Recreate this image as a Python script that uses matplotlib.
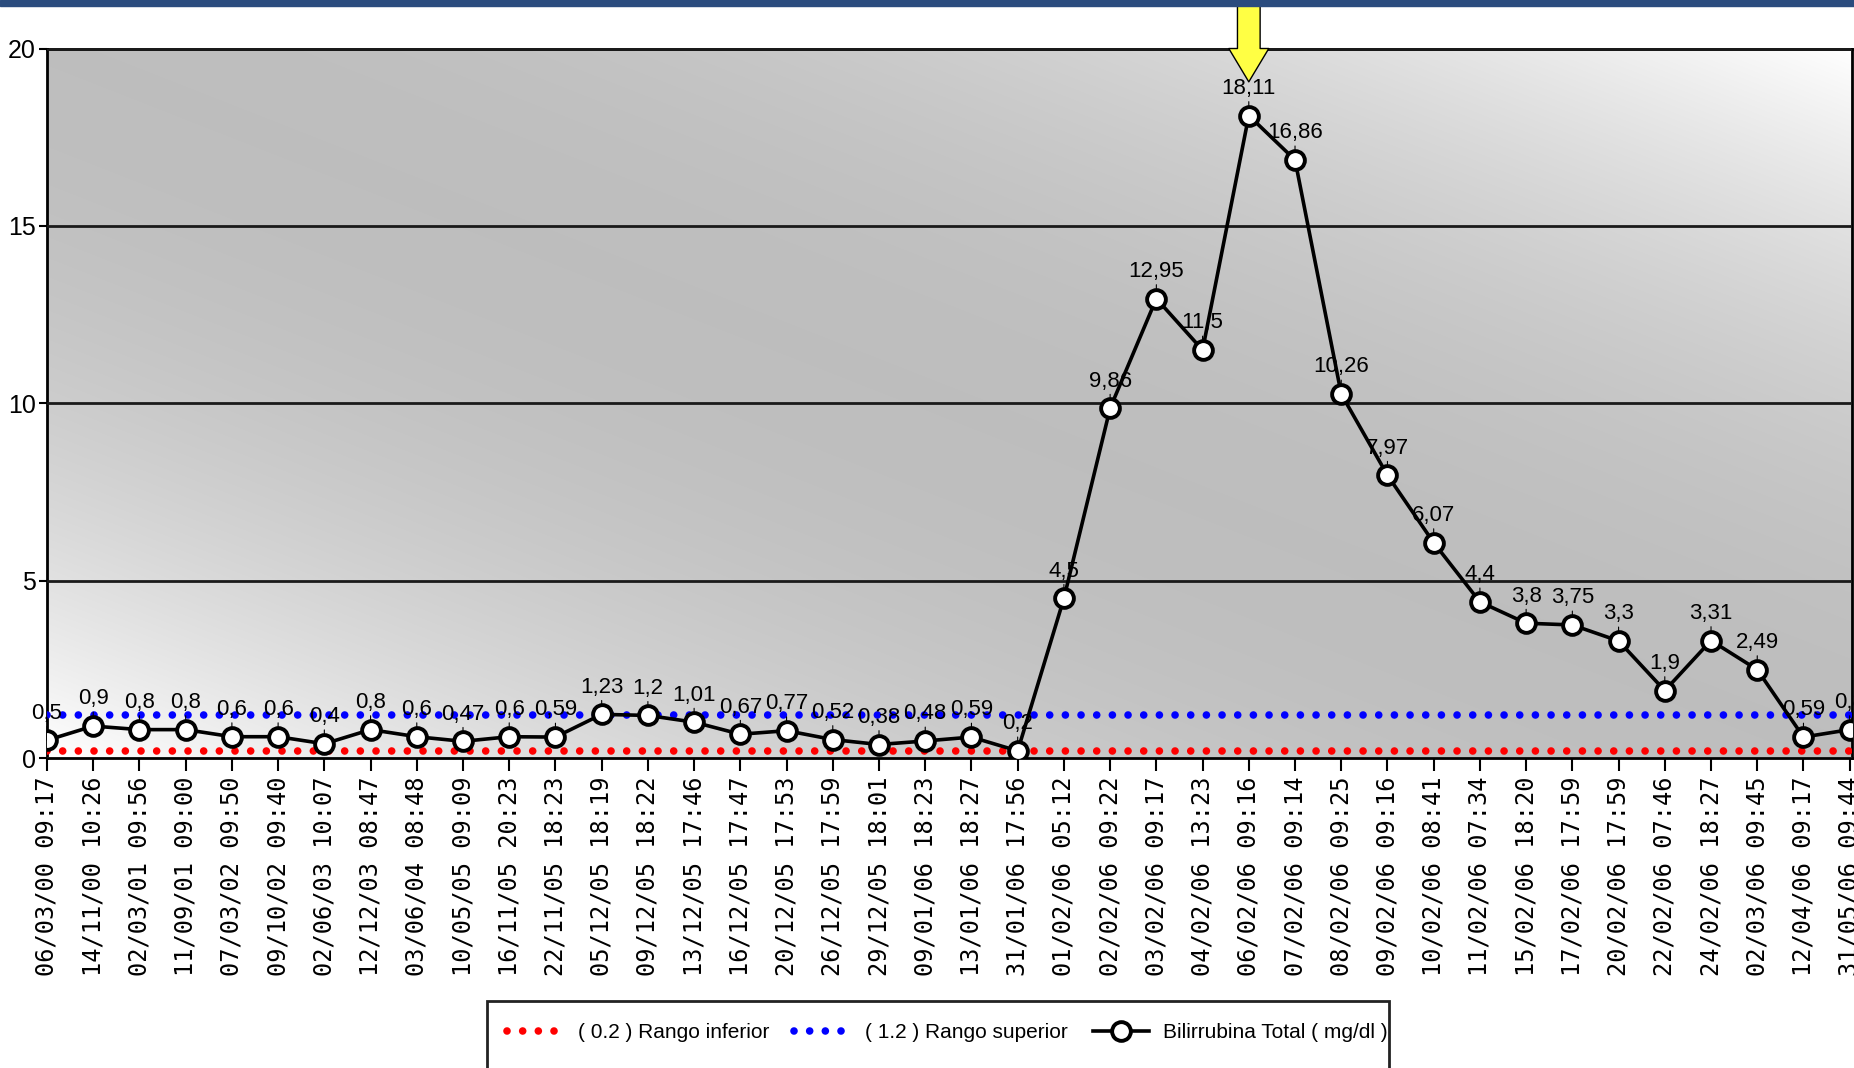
import numpy as np
import matplotlib
matplotlib.use('Agg')
import matplotlib.pyplot as plt
from matplotlib.patches import Rectangle

fechas = ['06/03/00 09:17', '14/11/00 10:26', '02/03/01 09:56', '11/09/01 09:00',
          '07/03/02 09:50', '09/10/02 09:40', '02/06/03 10:07', '12/12/03 08:47',
          '03/06/04 08:48', '10/05/05 09:09', '16/11/05 20:23', '22/11/05 18:23',
          '05/12/05 18:19', '09/12/05 18:22', '13/12/05 17:46', '16/12/05 17:47',
          '20/12/05 17:53', '26/12/05 17:59', '29/12/05 18:01', '09/01/06 18:23',
          '13/01/06 18:27', '31/01/06 17:56', '01/02/06 05:12', '02/02/06 09:22',
          '03/02/06 09:17', '04/02/06 13:23', '06/02/06 09:16', '07/02/06 09:14',
          '08/02/06 09:25', '09/02/06 09:16', '10/02/06 08:41', '11/02/06 07:34',
          '15/02/06 18:20', '17/02/06 17:59', '20/02/06 17:59', '22/02/06 07:46',
          '24/02/06 18:27', '02/03/06 09:45', '12/04/06 09:17', '31/05/06 09:44']
bilirrubina = [0.5, 0.9, 0.8, 0.8, 0.6, 0.6, 0.4, 0.8, 0.6, 0.47, 0.6, 0.59,
               1.23, 1.2, 1.01, 0.67, 0.77, 0.52, 0.38, 0.48, 0.59, 0.2,
               4.5, 9.86, 12.95, 11.5, 18.11, 16.86, 10.26, 7.97, 6.07, 4.4,
               3.8, 3.75, 3.3, 1.9, 3.31, 2.49, 0.59, 0.8]
rango_inferior = 0.2
rango_superior = 1.2
y_ticks = [0, 5, 10, 15, 20]

fuente = ['Liberation Sans', 'DejaVu Sans']
W, H = 1854, 1068

fig = plt.figure(figsize=(W / 100, H / 100), dpi=100)
fig.patch.set_facecolor('white')
ax = fig.add_axes([47 / W, 1 - 758 / H, (1852 - 47) / W, (758 - 48.5) / H])

# fondo degradado diagonal
gx, gy = np.meshgrid(np.linspace(0, 1, 700), np.linspace(1, 0, 300))
d = gx + gy - 1
gris = 0.745 + 0.255 * np.abs(d) ** 2.1
ax.imshow(np.dstack([gris] * 3), extent=[0, 1, 0, 1], transform=ax.transAxes,
          aspect='auto', zorder=0, interpolation='bilinear')

x = np.arange(len(bilirrubina))

l_inf = ax.axhline(rango_inferior, color='#ff0000', lw=5.5, linestyle=(0, (0.001, 2.05)),
                   dash_capstyle='round', zorder=3)
l_sup = ax.axhline(rango_superior, color='#0000ff', lw=5.5, linestyle=(0, (0.001, 2.05)),
                   dash_capstyle='round', zorder=3)
l_bil, = ax.plot(x, bilirrubina, color='black', lw=2.6, marker='o', ms=13.5,
                 mfc='white', mec='black', mew=2.8, zorder=5)

for i, v in enumerate(bilirrubina):
    ax.annotate(str(v).replace('.', ','), xy=(i, v), xytext=(0, 12),
                textcoords='offset points', ha='center', va='bottom',
                fontsize=16, family=fuente, zorder=4,
                arrowprops=dict(arrowstyle='-', color='black', lw=0.8,
                                shrinkA=0, shrinkB=0))

# flecha amarilla sobre el maximo
imax = int(np.argmax(bilirrubina))
ax.annotate('', xy=(imax, bilirrubina[imax] + 0.95), xytext=(imax, 21.5),
            annotation_clip=False,
            arrowprops=dict(arrowstyle='simple,head_length=1.0,head_width=1.2,tail_width=0.68',
                            mutation_scale=24, fc='#ffff44', ec='black', lw=1,
                            shrinkA=0, shrinkB=0))

ax.set_xlim(0, len(bilirrubina) - 1 + 0.05)
ax.set_ylim(y_ticks[0], y_ticks[-1])
ax.set_yticks(y_ticks)
ax.set_yticklabels([str(t) for t in y_ticks], fontsize=18, family=fuente)
ax.set_xticks(x)
ax.set_xticklabels(fechas, rotation=90, fontsize=17, family='DejaVu Sans Mono')
ax.tick_params(axis='x', length=9, width=1.5, pad=4, colors='black')
ax.tick_params(axis='y', length=6, width=1.5, pad=2, colors='black')
ax.yaxis.grid(True, color='#1a1a1a', lw=2)
ax.set_axisbelow(False)
for s in ax.spines.values():
    s.set_color('black')
    s.set_linewidth(2)

# barra azul superior (captura)
fig.patches.append(Rectangle((0, 1 - 6 / H), 1, 6 / H, transform=fig.transFigure,
                             color='#2b4c7e', zorder=10))

# caja de leyenda (cortada por abajo)
fig.patches.append(Rectangle((487 / W, -0.05), (1389 - 487) / W, 0.05 + 1 - 1001 / H,
                             transform=fig.transFigure, fc='white', ec='#222222',
                             lw=2, zorder=1))
leg = fig.legend([l_inf, l_sup, l_bil],
                 [f'( {rango_inferior} ) Rango inferior',
                  f'( {rango_superior} ) Rango superior',
                  'Bilirrubina Total ( mg/dl )'],
                 loc='center left', bbox_to_anchor=(488 / W, 1 - 1033 / H),
                 ncol=3, frameon=False, prop={'family': fuente, 'size': 15},
                 handlelength=2.7, columnspacing=1.2, handletextpad=0.7)
leg.set_zorder(5)

fig.savefig('out.png', dpi=100)
